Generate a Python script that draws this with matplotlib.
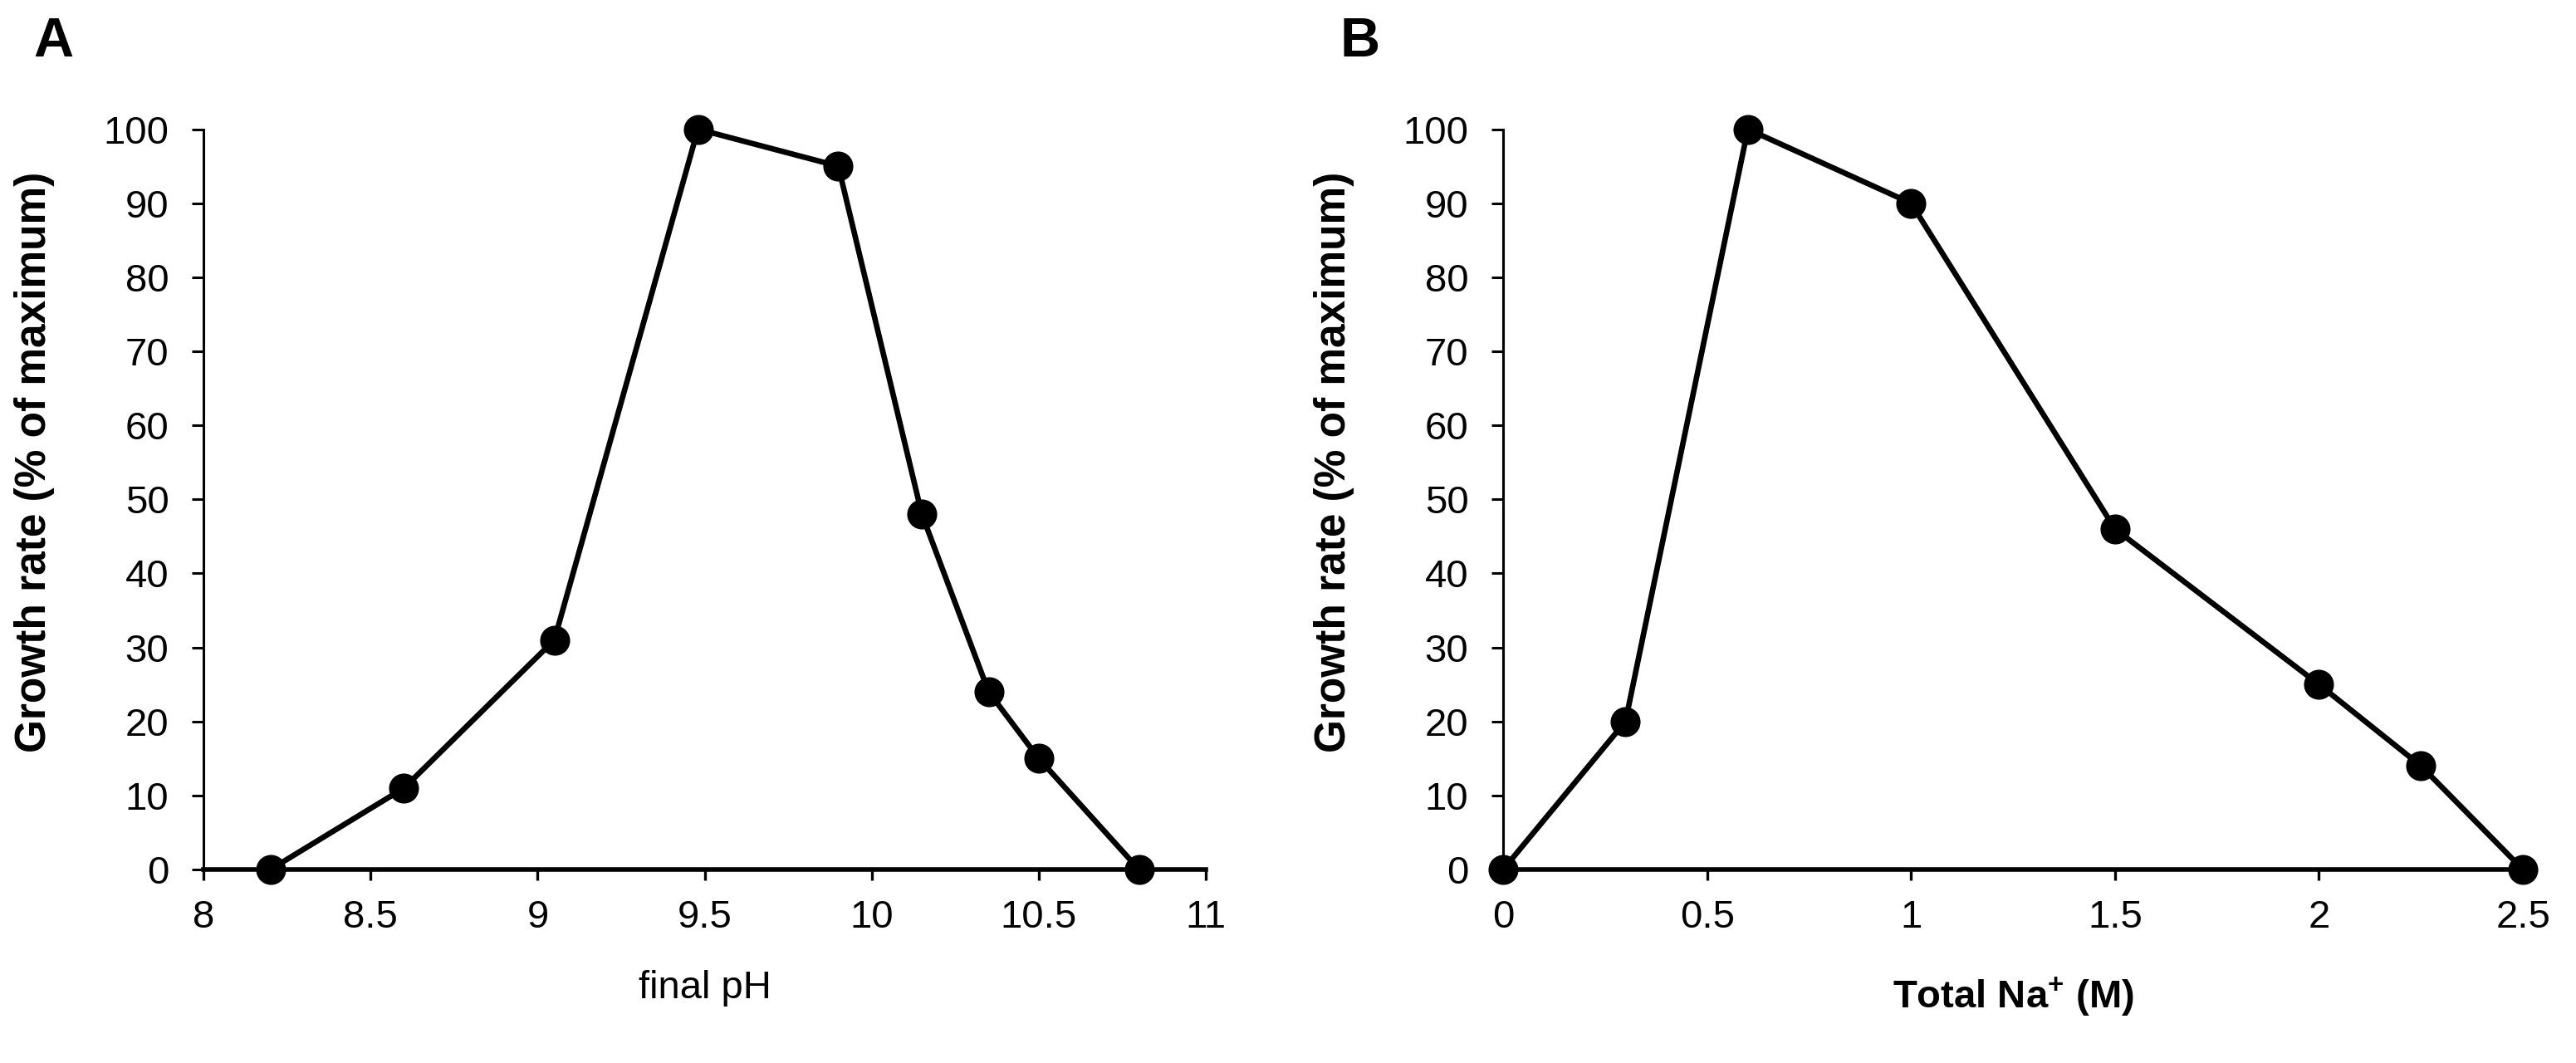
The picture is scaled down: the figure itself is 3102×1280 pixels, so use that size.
import matplotlib
matplotlib.use("Agg")
import matplotlib.pyplot as plt

# panel A - final pH
ph = [8.2, 8.6, 9.05, 9.48, 9.9, 10.15, 10.35, 10.5, 10.8]
growth_ph = [0, 11, 31, 100, 95, 48, 24, 15, 0]
ph_ticks = [8, 8.5, 9, 9.5, 10, 10.5, 11]
ph_ticklabels = ["8", "8.5", "9", "9.5", "10", "10.5", "11"]

# panel B - total Na+
na = [0, 0.3, 0.6, 1.0, 1.5, 2.0, 2.25, 2.5]
growth_na = [0, 20, 100, 90, 46, 25, 14, 0]
na_ticks = [0, 0.5, 1, 1.5, 2, 2.5]
na_ticklabels = ["0", "0.5", "1", "1.5", "2", "2.5"]

y_ticks = list(range(0, 101, 10))

font = ["Liberation Sans", "DejaVu Sans"]

plt.rcParams["mathtext.fontset"] = "custom"
plt.rcParams["mathtext.rm"] = "Liberation Sans:bold"
plt.rcParams["mathtext.bf"] = "Liberation Sans:bold"

fig = plt.figure(figsize=(31.02, 12.8), dpi=100)
axA = fig.add_axes([0.0790, 0.1820, 0.3891, 0.6965])
axB = fig.add_axes([0.5835, 0.1820, 0.3959, 0.6965])


def style(ax, x, y, xt, xtl, xlim, xlabel, xbold, ylab_x):
    ax.plot(x, y, color="black", lw=4.8, marker="o", markersize=25,
            clip_on=False, zorder=5)
    ax.set_xlim(xlim)
    ax.set_ylim(0, 100)
    ax.spines["top"].set_visible(False)
    ax.spines["right"].set_visible(False)
    ax.spines["left"].set_linewidth(2.2)
    ax.spines["bottom"].set_linewidth(4.0)
    ax.set_xticks(xt)
    ax.set_xticklabels(xtl, family=font, fontsize=34)
    ax.set_yticks(y_ticks)
    ax.set_yticklabels([str(v) for v in y_ticks], family=font, fontsize=34)
    ax.tick_params(axis="y", direction="out", length=10, width=2.2, pad=20)
    ax.tick_params(axis="x", direction="out", length=9, width=2.4, pad=17)
    ax.set_ylabel("Growth rate (% of maximum)", family=font,
                  fontweight="bold", fontsize=37)
    ax.yaxis.set_label_coords(ylab_x, 0.55)
    ax.set_xlabel(xlabel, family=font,
                  fontweight="bold" if xbold else "normal", fontsize=34)


style(axA, ph, growth_ph, ph_ticks, ph_ticklabels, (8, 11), "final pH",
      False, -0.148)
axA.xaxis.set_label_coords(0.5, -0.16)
axA.xaxis.label.set_va("center")

style(axB, na, growth_na, na_ticks, na_ticklabels, (0, 2.5),
      "Total Na$^{+}$ (M)", True, -0.146)
axB.xaxis.set_label_coords(0.5, -0.172)
axB.xaxis.label.set_va("center")

fig.text(40 / 3102, 1 - 68 / 1280, "A", family=font, fontweight="bold",
         fontsize=48, ha="left", va="baseline")
fig.text(1614 / 3102, 1 - 68 / 1280, "B", family=font, fontweight="bold",
         fontsize=48, ha="left", va="baseline")

fig.savefig("out.png", dpi=100)
